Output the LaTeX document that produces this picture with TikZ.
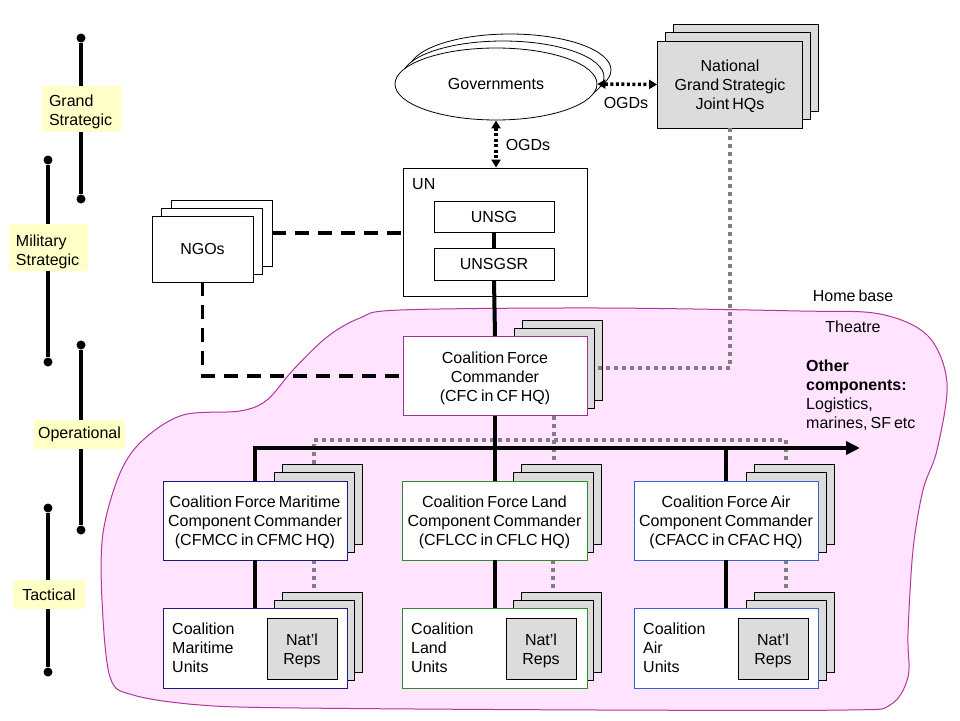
\documentclass[tikz,border=0pt]{standalone}
\usepackage{fontspec}
\setmainfont{Liberation Sans}
\usetikzlibrary{arrows.meta,shapes.geometric}
\definecolor{lvlyellow}{HTML}{FFFFC8}
\definecolor{pinkfill}{HTML}{FFE3FF}
\definecolor{pinkline}{HTML}{B4359B}
\definecolor{cfcline}{HTML}{993399}
\definecolor{marline}{HTML}{1A1A80}
\definecolor{landline}{HTML}{2E8B2E}
\definecolor{airline}{HTML}{3366CC}
\definecolor{hatchgray}{HTML}{DCDCDC}
\definecolor{dotgray}{HTML}{808080}
\newcommand{\dfont}{\fontsize{16}{19}\selectfont\spaceskip=0.19em\relax}
\begin{document}
\begin{tikzpicture}[x=1pt,y=-1pt,
  every node/.style={font=\dfont, inner sep=0pt},
  lvl/.style={fill=lvlyellow, align=left, text width=#1},
  dotend/.style={circle, fill=black, minimum size=9pt},
  tline/.style={line width=3.5pt},
  wbox/.style={draw, fill=white, line width=0.8pt, align=center},
  hbox/.style={draw, fill=hatchgray, line width=0.8pt, minimum width=80pt, minimum height=80pt},
  lowtext/.style={text height=#1},
  lowtext/.default=53.5pt,
  bigline/.style={line width=4pt},
  blkdash/.style={line width=3.5pt, dash pattern=on 14pt off 9pt},
  gdot/.style={line width=4pt, dotgray, dash pattern=on 4pt off 4pt},
  bdot/.style={line width=3.5pt, dash pattern=on 3pt off 2.5pt, {Triangle[length=8pt,width=9pt]}-{Triangle[length=8pt,width=9pt]}}
]
\useasboundingbox (0,0) rectangle (960,720);
\fill[white] (0,0) rectangle (960,720);

% ---- theatre blob
\draw[pinkline, fill=pinkfill, line width=1pt] plot[smooth cycle, tension=0.55] coordinates {
 (400,310) (600,308) (800,311) (880,314) (928,336) (947,383) (937,450) (923,490)
 (913,550) (908,633) (908,677) (890,705) (847,710) (600,710) (300,708) (200,705)
 (133,695) (110,677) (102,600) (103,533) (120,473) (143,440) (183,415) (240,411)
 (267,400) (293,370) (327,337) (360,318)};

% ---- level timeline
\node[dotend] (g1) at (81,38) {};  \node[dotend] (g2) at (81,199) {};
\node[dotend] (m1) at (48,160) {}; \node[dotend] (m2) at (48,362) {};
\node[dotend] (o1) at (81,345) {}; \node[dotend] (o2) at (81,530) {};
\node[dotend] (t1) at (48,508) {}; \node[dotend] (t2) at (48,672) {};
\draw[tline] (g1) -- (g2);
\draw[tline] (m1) -- (m2);
\draw[tline] (o1) -- (o2);
\draw[tline] (t1) -- (t2);
\node[lvl=65pt, minimum height=46pt, inner xsep=7pt, lowtext=17.5pt] (lg) at (81.5,109) {Grand\\Strategic};
\node[lvl=65pt, minimum height=47pt, inner xsep=7pt, lowtext=19.5pt] (lm) at (48.5,247.5) {Military\\Strategic};
\node[fill=lvlyellow, minimum width=91pt, minimum height=29pt] (lo) at (79.5,434.5) {Operational};
\node[fill=lvlyellow, minimum width=72pt, minimum height=29pt] (lt) at (49,594.5) {Tactical};

% ---- governments
\node[ellipse, draw, fill=white, line width=0.8pt, minimum width=202pt, minimum height=72pt] (govb) at (510,70) {};
\node[ellipse, draw, fill=white, line width=0.8pt, minimum width=202pt, minimum height=72pt] (govm) at (503,77) {};
\node[ellipse, draw, fill=white, line width=0.8pt, minimum width=202pt, minimum height=72pt] (gov) at (496,84) {Governments};

% ---- national HQs
\node[hbox, minimum width=145pt, minimum height=87pt] (natb) at (746,67.5) {};
\node[hbox, minimum width=145pt, minimum height=87pt] (natm) at (738,76) {};
\node[hbox, minimum width=145pt, minimum height=87pt, align=center, lowtext] (nat) at (730,84.5) {National\\Grand Strategic\\Joint HQs};

\draw[bdot] (gov.east) -- (nat.west);
\node (ogd1) at (626,103) {OGDs};

% ---- UN
\node[wbox, minimum width=184pt, minimum height=128pt] (un) at (495,232) {};
\node[anchor=west] (unl) at (412,184) {UN};
\node[wbox, minimum width=120pt, minimum height=31pt] (unsg) at (494,216.5) {UNSG};
\node[wbox, minimum width=120pt, minimum height=32pt] (unsgsr) at (494,264) {UNSGSR};
\draw[bdot] (gov.south) -- (un.north -| gov.south);
\node (ogd2) at (528,145) {OGDs};

% ---- NGOs
\node[wbox, minimum width=101pt, minimum height=66pt] (ngob) at (221.5,233) {};
\node[wbox, minimum width=101pt, minimum height=66pt] (ngom) at (212,241) {};
\node[wbox, minimum width=101pt, minimum height=66pt] (ngo) at (202.5,249) {NGOs};

% ---- hatched stacks
\node[hbox] (cfcb) at (562,360.5) {};
\node[hbox] (cfcm) at (554,368) {};
\foreach \n/\dx in {mar/0,land/239,air/472}{
  \node[hbox] (\n cb) at (322.5+\dx,504) {};
  \node[hbox] (\n cm) at (314+\dx,512) {};
  \node[hbox] (\n ub) at (322.5+\dx,632) {};
  \node[hbox] (\n um) at (314+\dx,640) {};
}

% ---- grey dotted national links
\draw[gdot] (nat.south) |- (cfcm.east);
\draw[gdot] (cfcm.south) -- (cfcm.south |- landcb.north);
\coordinate (db) at (0,440);
\draw[gdot] (marcm.north |- marcb.north) -- (marcm.north |- db) -- (aircm.north |- db) -- (aircm.north |- aircb.north);
\foreach \n in {mar,land,air}{
  \draw[gdot] (\n cm.south) -- (\n cm.south |- \n ub.north);
}

% ---- NGO dashed links
\draw[blkdash] (ngob.east) -- (un.west |- ngob.east);

% ---- command lines
\coordinate (busend) at (860,448);
\draw[bigline] (unsg.south) -- (unsgsr.north);

% ---- CFC
\node[wbox, draw=cfcline, minimum width=184pt, minimum height=79pt, lowtext] (cfc) at (495,376) {Coalition Force\\Commander\\(CFC in CF HQ)};
\draw[blkdash] (ngo.south) |- (cfc.west);
\draw[bigline] (unsgsr.south) -- (cfc.north);

% ---- component commanders
\node[wbox, draw=marline, minimum width=184pt, minimum height=79pt, lowtext] (mar) at (255,520.5) {Coalition Force Maritime\\Component Commander\\(CFMCC in CFMC HQ)};
\node[wbox, draw=landline, minimum width=185pt, minimum height=79pt, lowtext] (land) at (494.5,520.5) {Coalition Force Land\\Component Commander\\(CFLCC in CFLC HQ)};
\node[wbox, draw=airline, minimum width=184pt, minimum height=79pt, lowtext] (air) at (726,520.5) {Coalition Force Air\\Component Commander\\(CFACC in CFAC HQ)};

\draw[bigline, -{Triangle[length=14pt,width=13pt]}] (mar.north) |- (busend);
\draw[bigline] (cfc.south) -- (cfc.south |- busend);
\draw[bigline] (land.north |- busend) -- (land.north);
\draw[bigline] (air.north |- busend) -- (air.north);

% ---- units
\node[wbox, draw=marline, minimum width=184pt, minimum height=80pt] (maru) at (255,648) {};
\node[wbox, draw=landline, minimum width=185pt, minimum height=80pt] (landu) at (494.5,648) {};
\node[wbox, draw=airline, minimum width=184pt, minimum height=80pt] (airu) at (726,648) {};
\node[anchor=west, align=left] (marut) at (172,648) {Coalition\\Maritime\\Units};
\node[anchor=west, align=left] (landut) at (411,648) {Coalition\\Land\\Units};
\node[anchor=west, align=left] (airut) at (643,648) {Coalition\\Air\\Units};
\node[hbox, minimum width=70pt, minimum height=61pt, align=center, lowtext=34.5pt] (marnr) at (302,648.5) {Nat'l\\Reps};
\node[hbox, minimum width=70pt, minimum height=61pt, align=center, lowtext=34.5pt] (landnr) at (541,648.5) {Nat'l\\Reps};
\node[hbox, minimum width=70pt, minimum height=61pt, align=center, lowtext=34.5pt] (airnr) at (773,648.5) {Nat'l\\Reps};
\foreach \n in {mar,land,air}{
  \draw[bigline] (\n.south) -- (\n u.north);
}

% ---- text labels
\node (home) at (853,296) {Home base};
\node (theatre) at (853,327) {Theatre};
\node[anchor=north west, align=left] (other) at (806,360) {\textbf{Other}\\\textbf{components:}\\Logistics,\\marines, SF etc};
\end{tikzpicture}
\end{document}
